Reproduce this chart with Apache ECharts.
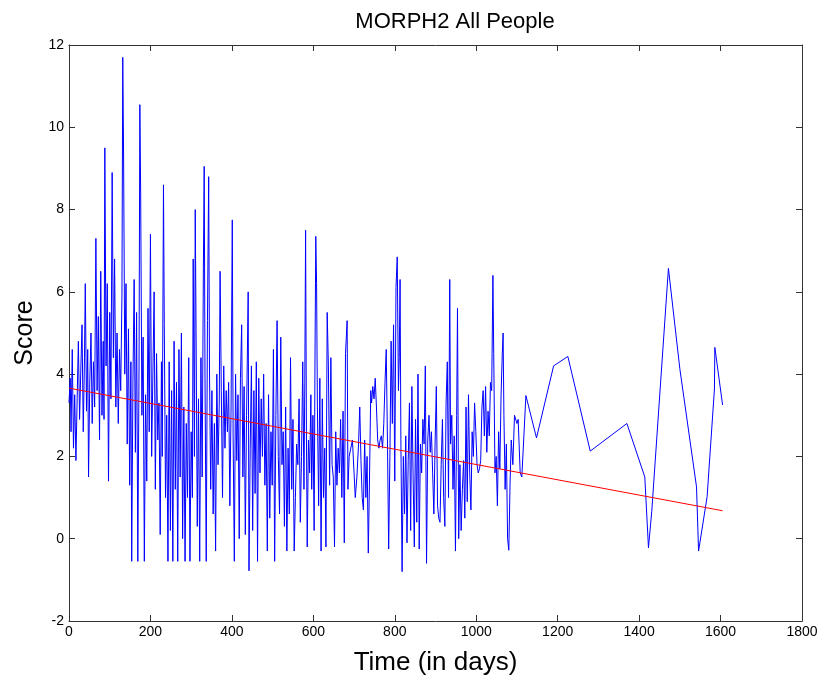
<!DOCTYPE html>
<html>
<head>
<meta charset="utf-8">
<script src="https://cdn.jsdelivr.net/npm/echarts@6/dist/echarts.min.js"></script>
<style>html,body{margin:0;padding:0;background:#fff;}#chart{width:823px;height:681px;}</style>
</head>
<body>
<div id="chart"></div>
<script>
const titleText = "MORPH2 All People";
const xAxisName = "Time (in days)";
const yAxisName = "Score";
const xTicks = [0, 200, 400, 600, 800, 1000, 1200, 1400, 1600, 1800];
const yTicks = [-2, 0, 2, 4, 6, 8, 10, 12];

const days = [
0,3,5,8,11,14,17,20,23,26,29,32,35,38,40,43,46,48,51,54,57,60,63,66,69,72,75,78,81,84,86,88,91,94,97,100,
103,106,109,112,115,118,121,124,127,130,132,134,137,140,143,146,149,152,154,157,160,163,166,169,172,174,176,179,182,185,188,191,194,197,200,
203,206,209,212,215,218,221,224,227,229,232,234,237,240,243,246,249,252,255,258,261,264,267,270,
273,276,279,282,285,288,291,294,297,300,303,305,308,310,312,315,318,321,324,327,330,332,334,337,340,343,345,348,351,354,357,360,363,366,369,371,374,377,380,383,386,389,392,395,398,401,403,406,409,412,415,418,421,424,427,430,433,436,440,442,445,448,451,454,457,460,463,466,469,472,475,478,481,484,487,490,493,496,499,502,505,508,511,514,517,520,523,526,529,532,
535,538,541,544,547,550,553,556,559,562,565,568,571,574,577,579,581,583,585,588,591,594,596,599,602,604,606,608,610,613,616,619,622,625,628,631,634,637,640,643,646,649,652,655,658,661,664,667,670,673,676,679,683,685,688,692,696,700,703,707,711,714,717,720,723,726,729,732,735,738,741,743,746,749,752,755,758,761,764,767,770,773,776,779,782,785,788,791,794,797,800,803,806,809,811,813,815,818,821,824,827,830,833,
836,839,842,845,848,851,854,857,860,863,866,869,872,875,878,881,884,887,890,893,896,899,902,905,908,911,914,917,920,923,926,929,932,935,937,940,943,946,949,952,954,957,960,963,966,969,972,975,978,981,984,987,990,993,996,999,1002,1005,1008,1011,1014,1017,1020,1023,1026,1029,1032,1035,1038,1041,1043,1046,1049,1052,1055,1058,1061,1064,1066,1068,1071,1074,1077,1080,1083,1086,1090,1094,1100,1103,1108,1112,
1122,1148,1190,1225,1280,1370,1414,1423,1431,1472,1500,1541,1546,1567,1585,1586,1605
];
const scores = [
3.3,3.9,2.6,4.6,2.2,3.5,1.9,3.4,4.8,2.9,4.1,5.2,2.6,4.4,6.2,3.1,4.6,1.5,3.8,5.0,2.8,4.3,3.2,7.3,3.6,5.4,2.4,6.5,3.0,4.8,2.9,9.5,4.2,6.2,1.4,5.5,
3.4,8.9,4.4,6.8,3.2,5.0,2.8,4.6,3.6,5.9,11.7,9.4,4.0,6.2,2.3,5.1,1.3,4.3,-0.55,3.8,6.3,2.1,5.5,-0.55,4.2,10.55,8.4,3.0,4.9,-0.55,3.5,1.4,5.6,2.6,7.4,
2.0,4.0,6.0,1.2,4.5,2.4,3.3,0.1,4.3,2.0,8.6,5.2,1.0,3.0,-0.55,4.3,0.2,3.6,-0.55,4.8,1.2,3.8,-0.55,4.6,
1.5,5.0,0.0,3.2,-0.55,2.8,1.0,4.4,-0.55,2.6,1.0,6.8,2.0,8.0,5.1,0.3,3.4,-0.55,4.4,1.5,6.6,9.05,3.9,-0.55,5.3,8.8,4.1,1.2,3.6,0.6,2.8,-0.3,4.0,1.8,3.3,6.5,3.6,1.0,4.2,2.2,3.6,2.6,3.8,0.8,3.2,7.75,2.5,-0.55,4.0,1.9,3.5,0.0,3.9,5.2,1.5,3.7,0.1,3.0,6.0,-0.78,2.2,4.2,0.2,3.6,1.1,4.3,-0.55,3.9,1.6,3.4,2.0,4.0,1.3,2.8,-0.3,3.5,0.5,2.6,1.3,4.6,-0.55,3.0,5.3,2.0,0.6,4.9,1.8,2.6,0.3,3.2,
-0.3,2.2,0.6,4.4,1.2,2.9,-0.3,1.0,2.3,1.8,3.4,0.4,2.0,4.3,1.2,3.8,7.5,2.6,-0.2,2.4,1.6,3.5,1.2,3.0,0.2,4.2,7.35,6.2,3.2,0.8,3.9,-0.3,3.4,1.0,2.2,-0.2,5.5,4.2,1.3,4.4,1.8,1.5,-0.2,2.6,1.3,2.2,1.6,2.9,1.0,3.1,-0.1,4.5,5.3,1.2,2.0,2.2,2.4,1.6,1.0,1.5,2.3,3.2,1.9,1.0,0.7,2.4,1.0,2.0,-0.35,1.5,3.6,3.3,3.7,3.4,3.9,3.2,2.4,2.2,2.4,2.5,2.2,2.8,3.8,4.6,2.4,-0.25,2.0,4.8,2.8,5.2,1.4,6.1,6.85,3.6,4.4,6.3,2.4,-0.8,2.0,0.6,2.5,-0.1,1.9,
3.3,0.2,3.7,1.5,-0.2,2.9,0.4,4.0,-0.25,2.3,1.6,2.9,2.3,4.2,-0.6,2.4,3.0,2.1,2.6,1.6,0.6,2.3,3.7,0.8,0.5,0.4,1.8,2.9,1.0,0.3,3.3,4.3,1.0,6.3,2.3,3.0,1.2,2.5,-0.3,3.0,5.6,0.0,1.8,0.2,1.2,1.9,0.5,3.2,0.9,3.5,1.6,0.7,2.6,2.0,3.3,2.6,1.8,1.6,1.7,1.9,3.2,3.6,2.5,3.7,2.1,3.1,2.5,3.8,3.6,6.4,4.5,1.6,2.0,0.8,2.6,1.7,3.5,4.5,5.0,3.0,1.2,2.3,0.0,-0.28,1.3,2.4,1.8,3.0,2.8,2.9,1.6,1.5,
3.48,2.45,4.2,4.43,2.13,2.8,1.5,-0.22,0.66,6.57,4.13,1.26,-0.3,1.02,3.64,4.65,3.25
];
const trendDays = [0, 1605];
const trendScores = [3.66, 0.68];

const scoreData = days.map((d, i) => [d, scores[i]]);
const trendData = trendDays.map((d, i) => [d, trendScores[i]]);

const axisColor = '#333';
const font = 'Liberation Sans, Arial, Helvetica, sans-serif';
const plainNum = v => String(v);

const chart = echarts.init(document.getElementById('chart'), null, {renderer: 'canvas'});
chart.setOption({
  animation: false,
  backgroundColor: '#ffffff',
  title: {
    text: titleText,
    left: 450, top: 6, textAlign: 'center',
    textStyle: {fontFamily: font, fontSize: 22, fontWeight: 'normal', color: '#000'}
  },
  grid: {left: 69, right: 21, top: 45, bottom: 58, containLabel: false},
  xAxis: [{
    type: 'value', min: xTicks[0], max: xTicks[xTicks.length-1], interval: 200,
    position: 'bottom',
    name: xAxisName, nameLocation: 'middle', nameGap: 29,
    nameTextStyle: {fontFamily: font, fontSize: 26, color: '#000'},
    axisLine: {onZero: false, lineStyle: {color: axisColor, width: 1}},
    axisTick: {inside: true, length: 6, lineStyle: {color: axisColor}},
    axisLabel: {fontFamily: font, fontSize: 14, color: '#000', margin: 4, formatter: plainNum},
    splitLine: {show: false}
  }, {
    type: 'value', min: xTicks[0], max: xTicks[xTicks.length-1], interval: 200,
    position: 'top',
    axisLine: {onZero: false, lineStyle: {color: axisColor, width: 1}},
    axisTick: {inside: true, length: 6, lineStyle: {color: axisColor}},
    axisLabel: {show: false},
    splitLine: {show: false}
  }],
  yAxis: [{
    type: 'value', min: yTicks[0], max: yTicks[yTicks.length-1], interval: 2,
    position: 'left',
    name: yAxisName, nameLocation: 'middle', nameGap: 29, nameRotate: 90,
    nameTextStyle: {fontFamily: font, fontSize: 25, color: '#000'},
    axisLine: {onZero: false, lineStyle: {color: axisColor, width: 1}},
    axisTick: {inside: true, length: 6, lineStyle: {color: axisColor}},
    axisLabel: {fontFamily: font, fontSize: 14, color: '#000', margin: 5, formatter: plainNum},
    splitLine: {show: false}
  }, {
    type: 'value', min: yTicks[0], max: yTicks[yTicks.length-1], interval: 2,
    position: 'right',
    axisLine: {onZero: false, lineStyle: {color: axisColor, width: 1}},
    axisTick: {inside: true, length: 6, lineStyle: {color: axisColor}},
    axisLabel: {show: false},
    splitLine: {show: false}
  }],
  series: [{
    type: 'line', data: scoreData, showSymbol: false, symbol: 'none',
    xAxisIndex: 0, yAxisIndex: 0,
    lineStyle: {color: '#0000ff', width: 1}, z: 2
  }, {
    type: 'line', data: trendData, showSymbol: false, symbol: 'none',
    xAxisIndex: 0, yAxisIndex: 0,
    lineStyle: {color: '#ff0000', width: 1}, z: 3
  }]
});
</script>
</body>
</html>
